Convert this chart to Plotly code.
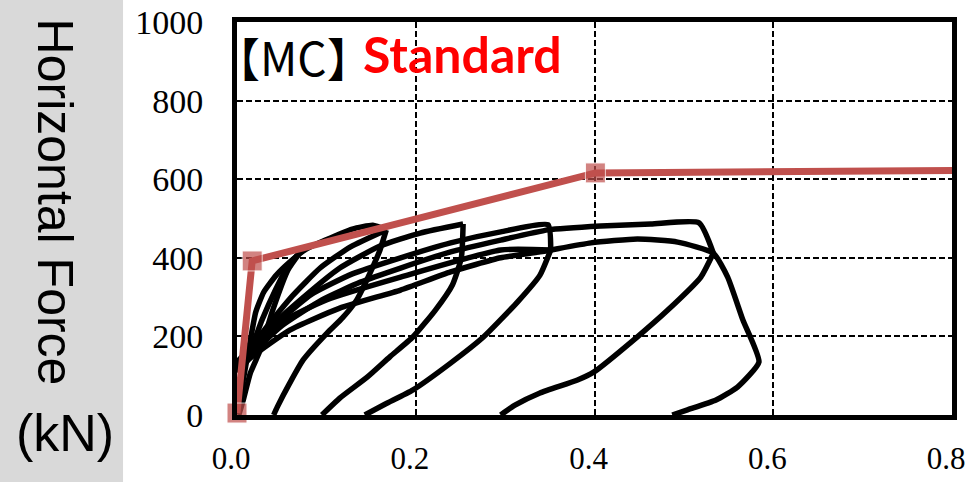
import plotly.graph_objects as go

# ---------------- data ----------------
x_ticks = [0.0, 0.2, 0.4, 0.6, 0.8]
x_tick_text = ["0.0", "0.2", "0.4", "0.6", "0.8"]
y_ticks = [0, 200, 400, 600, 800, 1000]
y_tick_text = ["0", "200", "400", "600", "800", "1000"]

# Standard (skeleton) curve: drift vs horizontal force (kN)
std_x = [0.0, 0.017, 0.401, 0.8]
std_y = [5, 392, 616, 622]

# Experimental hysteresis branches (positive quadrant)
env_x = [0.001, 0.004, 0.009, 0.015, 0.021, 0.030, 0.044, 0.059, 0.076, 0.099, 0.129, 0.152, 0.167]
env_y = [3, 51, 115, 191, 262, 313, 356, 389, 420, 445, 473, 483, 471]

r1_x = [0.0, 0.015, 0.028, 0.043, 0.057, 0.071]
r1_y = [120, 165, 242, 318, 379, 415]
u1_x = [0.071, 0.057, 0.040, 0.026, 0.015, 0.007, 0.002]
u1_y = [415, 369, 267, 165, 107, 38, 0]

r2_x = [0.0, 0.015, 0.035, 0.062, 0.093, 0.127, 0.167]
r2_y = [135, 171, 229, 303, 374, 428, 471]
u2_x = [0.167, 0.160, 0.152, 0.134, 0.118, 0.101, 0.074, 0.059, 0.045, 0.041]
u2_y = [471, 420, 377, 293, 247, 209, 140, 81, 20, 0]

r3_x = [0.0, 0.015, 0.039, 0.071, 0.115, 0.160, 0.205, 0.253]
r3_y = [127, 165, 227, 293, 374, 430, 463, 486]
u3_x = [0.253, 0.251, 0.241, 0.222, 0.197, 0.171, 0.146, 0.115, 0.095]
u3_y = [486, 400, 331, 267, 199, 148, 97, 43, 0]

r4_x = [0.0, 0.015, 0.046, 0.084, 0.129, 0.183, 0.239, 0.295, 0.348, 0.351]
r4_y = [120, 160, 237, 308, 359, 400, 438, 466, 484, 420]
r4b_x = [0.0, 0.015, 0.050, 0.100, 0.183, 0.295, 0.351]
r4b_y = [125, 165, 237, 293, 351, 420, 420]
u4_x = [0.351, 0.339, 0.314, 0.276, 0.239, 0.197, 0.166, 0.143]
u4_y = [420, 356, 288, 199, 132, 64, 28, 0]

r5_x = [0.0, 0.015, 0.050, 0.095, 0.138, 0.183, 0.239, 0.295, 0.348, 0.407, 0.463, 0.517, 0.533]
r5_y = [115, 153, 227, 293, 338, 374, 415, 445, 471, 481, 486, 489, 412]
u5_x = [0.533, 0.519, 0.482, 0.448, 0.399, 0.381, 0.339, 0.311, 0.295]
u5_y = [412, 351, 267, 199, 109, 89, 56, 25, 0]

r6_x = [0.0, 0.015, 0.059, 0.115, 0.183, 0.239, 0.295, 0.339, 0.396, 0.448, 0.493,
        0.533, 0.549, 0.566, 0.584, 0.560, 0.536, 0.504, 0.487]
r6_y = [109, 145, 216, 272, 318, 364, 400, 415, 438, 448, 440,
        412, 351, 242, 135, 71, 38, 13, 0]

branches = [(env_x, env_y), (r1_x, r1_y), (u1_x, u1_y), (r2_x, r2_y), (u2_x, u2_y),
            (r3_x, r3_y), (u3_x, u3_y), (r4_x, r4_y), (r4b_x, r4b_y), (u4_x, u4_y),
            (r5_x, r5_y), (u5_x, u5_y), (r6_x, r6_y)]

# ---------------- figure ----------------
hx, hy = [], []
for bx, by in branches:
    hx += list(bx) + [None]
    hy += list(by) + [None]

fig = go.Figure()
fig.add_trace(go.Scatter(x=hx, y=hy, mode="lines",
                         line=dict(color="black", width=5.5, shape="spline", smoothing=0.5),
                         connectgaps=False, showlegend=False, hoverinfo="skip"))
fig.add_trace(go.Scatter(x=std_x, y=std_y, mode="lines+markers",
                         line=dict(color="#c0504d", width=7),
                         marker=dict(symbol="square", size=[20, 20, 20, 0], color="#c0504d"),
                         cliponaxis=False, showlegend=False))

axis_common = dict(showgrid=True, gridcolor="black", gridwidth=2, griddash="6px,3px",
                   showline=True, linecolor="black", linewidth=5, mirror=True,
                   zeroline=False, ticks="", automargin=False,
                   ticklabeloverflow="allow")

fig.update_xaxes(range=[0, 0.8], tickvals=x_ticks, ticktext=x_tick_text,
                 ticklabelstandoff=12, ticklabelshift=-6,
                 tickfont=dict(family="Liberation Serif", size=31, color="black"),
                 **axis_common)
fig.update_yaxes(range=[0, 1000], tickvals=y_ticks, ticktext=y_tick_text,
                 ticklabelstandoff=22,
                 tickfont=dict(family="Liberation Serif", size=34, color="black"),
                 **axis_common)

fig.update_layout(
    width=965, height=482,
    margin=dict(l=237, r=13, t=22, b=67, pad=0),
    paper_bgcolor="white", plot_bgcolor="white",
    shapes=[dict(type="rect", xref="paper", yref="paper",
                 x0=-0.3315, x1=-0.1594, y0=-0.1705, y1=1.056,
                 fillcolor="#d9d9d9", line=dict(width=0), layer="below")],
    annotations=[
        dict(text="Horizontal Force", xref="paper", yref="paper", x=-0.254, y=0.542,
             textangle=90, showarrow=False, xanchor="center", yanchor="middle",
             font=dict(family="Liberation Sans", size=50, color="black")),
        dict(text="(kN)", xref="paper", yref="paper", x=-0.24, y=-0.045,
             showarrow=False, xanchor="center", yanchor="middle",
             font=dict(family="Liberation Sans", size=52, color="black")),
        dict(text="【MC】", xref="paper", yref="paper", x=-0.035, y=0.913,
             showarrow=False, xanchor="left", yanchor="middle",
             font=dict(family="Noto Sans CJK JP", size=46, color="black")),
        dict(text="<b>Standard</b>", xref="paper", yref="paper", x=0.316, y=0.918,
             showarrow=False, xanchor="center", yanchor="middle",
             font=dict(family="Lato", size=50, color="#ff0000")),
    ],
)

fig.write_html("out.html")
